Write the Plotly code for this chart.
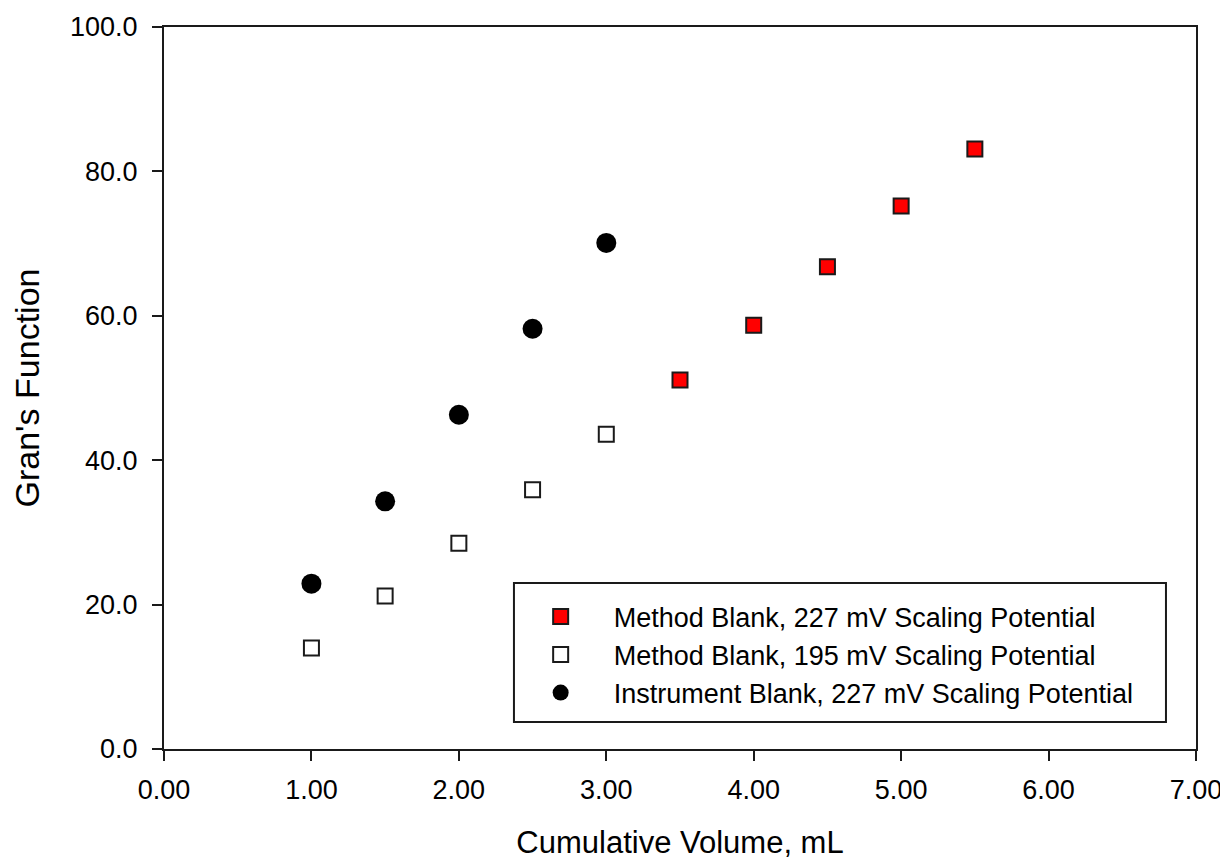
import plotly.graph_objects as go

# Data
x_method227 = [3.5, 4.0, 4.5, 5.0, 5.5]
y_method227 = [51.1, 58.7, 66.8, 75.2, 83.1]

x_method195 = [1.0, 1.5, 2.0, 2.5, 3.0]
y_method195 = [14.0, 21.2, 28.5, 35.9, 43.6]

x_instr227 = [1.0, 1.5, 2.0, 2.5, 3.0]
y_instr227 = [22.9, 34.3, 46.3, 58.2, 70.1]

names = [
    "Method Blank, 227 mV Scaling Potential",
    "Method Blank, 195 mV Scaling Potential",
    "Instrument Blank, 227 mV Scaling Potential",
]

x_ticks = [0, 1, 2, 3, 4, 5, 6, 7]
y_ticks = [0, 20, 40, 60, 80, 100]

FONT = "Arial, 'Liberation Sans', sans-serif"
INK = "#1a1a1a"

fig = go.Figure()
fig.add_trace(go.Scatter(
    x=x_method227, y=y_method227, mode="markers", name=names[0],
    marker=dict(symbol="square", size=15, color="#ff0000",
                line=dict(color=INK, width=2)),
))
fig.add_trace(go.Scatter(
    x=x_method195, y=y_method195, mode="markers", name=names[1],
    marker=dict(symbol="square", size=15, color="white",
                line=dict(color=INK, width=2)),
))
fig.add_trace(go.Scatter(
    x=x_instr227, y=y_instr227, mode="markers", name=names[2],
    marker=dict(symbol="circle", size=20, color="black",
                line=dict(color="black", width=0)),
))

axis_common = dict(
    showgrid=False, zeroline=False, showline=True, mirror=True,
    linecolor=INK, linewidth=2, ticks="outside", ticklen=10,
    tickwidth=2, tickcolor=INK, automargin=False,
    tickfont=dict(family=FONT, size=27, color="black"),
)

fig.update_xaxes(
    range=[0, 7], tickvals=x_ticks,
    ticktext=[f"{v:.2f}" for v in x_ticks],
    ticklabelstandoff=6,
    title=dict(text="Cumulative Volume, mL",
               font=dict(family=FONT, size=31, color="black"), standoff=27),
    **axis_common,
)
fig.update_yaxes(
    range=[0, 100], tickvals=y_ticks,
    ticktext=[f"{v:.1f}" for v in y_ticks],
    ticklabelstandoff=9,
    title=dict(text="Gran's Function",
               font=dict(family=FONT, size=34, color="black"), standoff=31),
    **axis_common,
)

# Legend frame
fig.add_shape(type="rect", xref="paper", yref="paper",
              x0=0.3391, x1=0.9709, y0=0.0374, y1=0.2299,
              line=dict(color=INK, width=2), fillcolor="rgba(0,0,0,0)")

# page body has an 8px margin, so the figure is 8px smaller and margins shifted
fig.update_layout(
    width=1220, height=855,
    margin=dict(l=156, r=32, t=19, b=114, autoexpand=False),
    paper_bgcolor="white", plot_bgcolor="white",
    font=dict(family=FONT, color="black"),
    showlegend=True,
    legend=dict(
        x=0.333, y=0.217, xanchor="left", yanchor="top",
        bgcolor="rgba(0,0,0,0)", borderwidth=0,
        font=dict(family=FONT, size=27, color="black"),
        itemwidth=96, tracegroupgap=0,
    ),
)

fig.write_html("out.html")
